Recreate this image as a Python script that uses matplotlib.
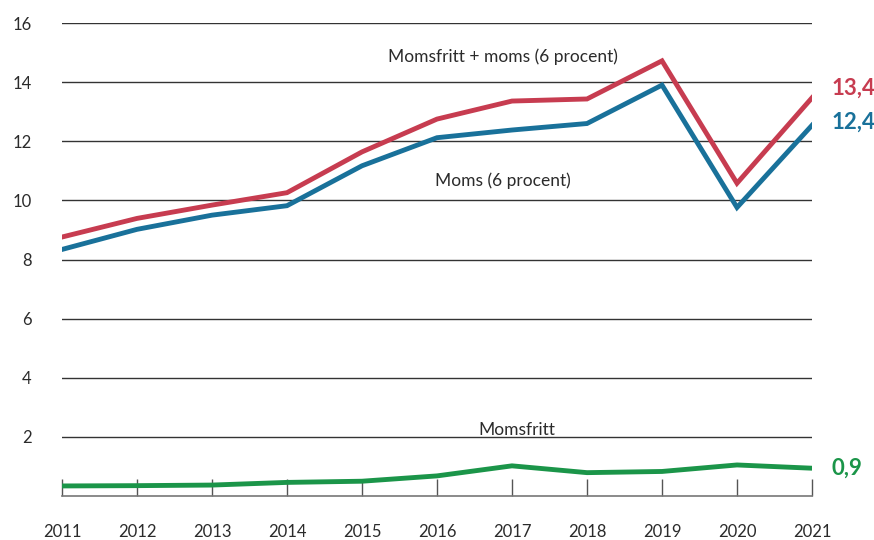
import matplotlib
matplotlib.use("Agg")
import matplotlib.pyplot as plt

plt.rcParams['font.family'] = ['Lato', 'DejaVu Sans']

years = [2011, 2012, 2013, 2014, 2015, 2016, 2017, 2018, 2019, 2020, 2021]
momsfritt_plus_moms = [8.76, 9.39, 9.84, 10.26, 11.64, 12.75, 13.36, 13.43, 14.72, 10.58, 13.47]
moms = [8.34, 9.02, 9.5, 9.82, 11.17, 12.12, 12.38, 12.6, 13.9, 9.76, 12.54]
momsfritt = [0.34, 0.35, 0.37, 0.46, 0.5, 0.68, 1.02, 0.79, 0.83, 1.05, 0.94]
yticks = [2, 4, 6, 8, 10, 12, 14, 16]
end_labels = ["13,4", "12,4", "0,9"]

RED = "#C73C50"
BLUE = "#19719A"
GREEN = "#1B9549"
TXT = "#2b2b2b"

fig = plt.figure(figsize=(8.74, 5.40), dpi=100)
ax = fig.add_axes([62/874, 1-496/540, (812-62)/874, (496-23)/540])

for y in yticks:
    ax.axhline(y, color="#333333", lw=1.0, zorder=1)

ax.plot(years, momsfritt_plus_moms, color=RED, lw=3.5, solid_joinstyle='miter', zorder=3)
ax.plot(years, moms, color=BLUE, lw=3.5, solid_joinstyle='miter', zorder=3)
ax.plot(years, momsfritt, color=GREEN, lw=3.5, solid_joinstyle='miter', zorder=3)

ax.set_xlim(2011, 2021)
ax.set_ylim(0, 16)
ax.set_xticks(years)
ax.set_xticklabels([str(y) for y in years])
ax.set_yticks(yticks)
ax.set_yticklabels([str(y) for y in yticks])

for s in ["top", "right", "left"]:
    ax.spines[s].set_visible(False)
ax.spines["bottom"].set_color("#777777")
ax.spines["bottom"].set_linewidth(1.2)

ax.tick_params(axis='x', direction='in', length=12, width=1, color="#555555",
               pad=20, labelsize=12, labelcolor=TXT)
ax.tick_params(axis='y', length=0, pad=22, labelsize=12, labelcolor=TXT)

ax.text(2016.88, 14.85, "Momsfritt + moms (6 procent)", ha='center', va='center',
        fontsize=12.5, color=TXT)
ax.text(2016.88, 10.65, "Moms (6 procent)", ha='center', va='center',
        fontsize=12.5, color=TXT)
ax.text(2017.07, 2.23, "Momsfritt", ha='center', va='center',
        fontsize=12.5, color=TXT)

ends = [(momsfritt_plus_moms[-1] + 0.33, RED), (moms[-1] + 0.11, BLUE), (momsfritt[-1] + 0.01, GREEN)]
for lab, (yv, c) in zip(end_labels, ends):
    ax.annotate(lab, xy=(years[-1], yv), xytext=(14, 0), textcoords='offset points',
                ha='left', va='center', fontsize=16, fontweight='bold', color=c,
                annotation_clip=False)

fig.savefig("out.png", dpi=100)
